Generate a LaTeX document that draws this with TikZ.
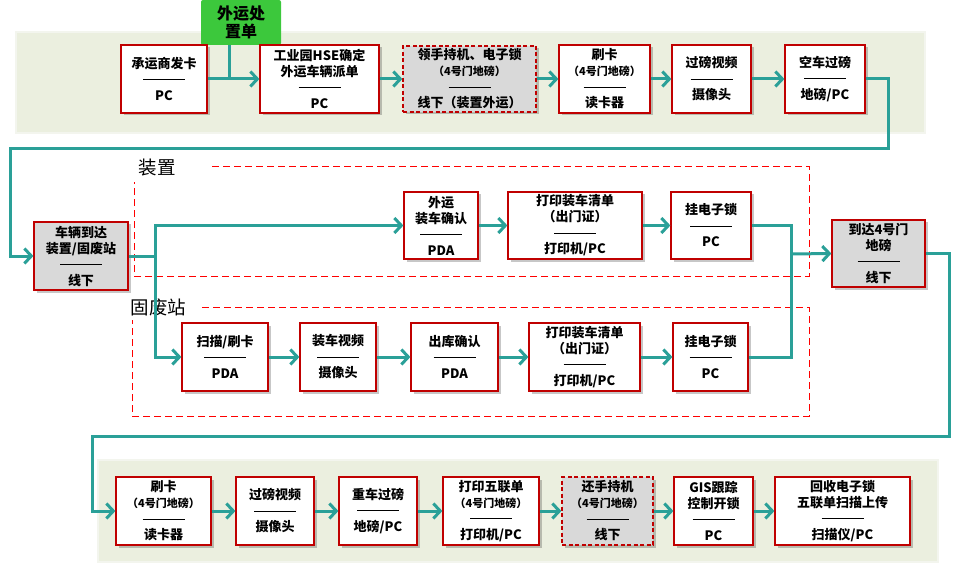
\documentclass[tikz,border=0pt]{standalone}
\usepackage{fontspec}
\setmainfont{Noto Sans CJK SC}
\usetikzlibrary{arrows.meta,shadows}

\definecolor{teal}{RGB}{42,160,152}
\definecolor{boxred}{RGB}{192,0,0}
\definecolor{band}{RGB}{235,239,223}
\definecolor{bandedge}{RGB}{243,245,238}
\definecolor{greenbox}{RGB}{60,200,60}
\definecolor{grayfill}{RGB}{217,217,217}

% divider between task and tool, smaller sub-line text
\newcommand\sep{\rule[4.5pt]{42pt}{0.8pt}}
\newcommand\sm[1]{{\fontsize{11}{14}\selectfont #1}}

\tikzset{
  flowbox/.style={draw=boxred, line width=1.2pt, fill=white, align=center,
    inner sep=0pt, font=\fontsize{13}{16}\selectfont\bfseries,
    drop shadow={shadow xshift=2.5pt, shadow yshift=-2.5pt, fill=black, opacity=0.22}},
  offline/.style={fill=grayfill},
  dashbox/.style={dash pattern=on 4pt off 2.5pt},
  flow/.style={draw=teal, line width=3pt,
    -{Straight Barb[length=7pt,width=15pt]}},
  link/.style={draw=teal, line width=3pt},
  group/.style={draw=red, line width=0.9pt, dash pattern=on 7pt off 4pt},
  grouplabel/.style={font=\fontsize{18.5}{20}\selectfont, inner sep=0pt},
  bandbox/.style={fill=band, draw=bandedge, line width=2pt},
}

% box node from its corner coordinates: [style]{name}{x1}{y1}{x2}{y2}{text}
\newcommand\flownode[7][]{%
  \node[flowbox, #1, minimum width={(#5-#3)*1pt}, minimum height={(#6-#4)*1pt}]
    (#2) at ({(#3+#5)/2},{(#4+#6)/2}) {#7};}

\begin{document}
\begin{tikzpicture}[x=1pt, y=-1pt]
\useasboundingbox (0,0) rectangle (953,572);

% background bands
\fill[bandbox] (16,32) rectangle (925,133);
\fill[bandbox] (98,460) rectangle (938,562);

% dispatch order
\node[fill=greenbox, rounded corners=2pt, minimum width=80pt, minimum height=45pt,
  inner sep=0pt, align=center, font=\fontsize{16}{18}\selectfont\bfseries]
  (g) at (241,22.5) {外运处\\置单};

% first row
\flownode{b1}{121}{45}{207}{113}{承运商发卡\\\sep\\PC}
\flownode{b2}{260}{45}{379}{113}{工业园HSE确定\\外运车辆派单\\\sep\\PC}
\flownode[offline,dashbox]{b3}{403}{46}{536}{112}{领手持机、电子锁\\\sm{（4号门地磅）}\\\sep\\线下（装置外运）}
\flownode{b4}{559}{45}{650}{113}{刷卡\\\sm{（4号门地磅）}\\\sep\\读卡器}
\flownode{b5}{672}{45}{751}{113}{过磅视频\\\sep\\摄像头}
\flownode{b6}{785}{45}{865}{113}{空车过磅\\\sep\\地磅/PC}

% arrival
\flownode[offline]{c1}{34}{222}{128}{290}{车辆到达\\装置/固废站\\\sep\\线下}

% plant group
\draw[group] (212,166) -- (809,166) -- (809,276) -- (134,276) -- (134,182);
\node[grouplabel] (lz) at (157,168) {装置};
\flownode{z1}{404}{192}{478}{259}{外运\\装车确认\\\sep\\PDA}
\flownode{z2}{508}{192}{642}{259}{打印装车清单\\（出门证）\\\sep\\打印机/PC}
\flownode{z3}{671}{192}{751}{259}{挂电子锁\\\sep\\PC}

% solid waste station group
\draw[group] (202,307) -- (809,307) -- (809,416) -- (132,416) -- (132,320);
\node[grouplabel] (lf) at (158.5,307) {固废站};
\flownode{f1}{182}{323}{268}{391}{扫描/刷卡\\\sep\\PDA}
\flownode{f2}{300}{323}{376}{391}{装车视频\\\sep\\摄像头}
\flownode{f3}{411}{323}{498}{391}{出库确认\\\sep\\PDA}
\flownode{f4}{529}{323}{640}{391}{打印装车清单\\（出门证）\\\sep\\打印机/PC}
\flownode{f5}{673}{323}{748}{391}{挂电子锁\\\sep\\PC}

% gate weighbridge
\flownode[offline]{d}{832}{220}{925}{287}{到达4号门\\地磅\\\sep\\线下}

% last row
\flownode{h1}{116}{477}{211}{545}{刷卡\\\sm{（4号门地磅）}\\\sep\\读卡器}
\flownode{h2}{236}{477}{314}{545}{过磅视频\\\sep\\摄像头}
\flownode{h3}{339}{477}{417}{545}{重车过磅\\\sep\\地磅/PC}
\flownode{h4}{443}{477}{539}{545}{打印五联单\\\sm{（4号门地磅）}\\\sep\\打印机/PC}
\flownode[offline,dashbox]{h5}{562}{477}{653}{545}{还手持机\\\sm{（4号门地磅）}\\\sep\\线下}
\flownode{h6}{674}{477}{753}{545}{GIS跟踪\\控制开锁\\\sep\\PC}
\flownode{h7}{775}{477}{910}{545}{回收电子锁\\五联单扫描上传\\\sep\\扫描仪/PC}

% junction and turn points
\coordinate (j) at (229,79);
\coordinate (t1) at (888,149);
\coordinate (t2) at (10,149);
\coordinate (s) at (155,256);
\coordinate (m) at (791,254);
\coordinate (u1) at (949,436);
\coordinate (u2) at (92,436);

% connectors
\draw[link] (j |- g.south) -- (j);
\draw[flow] (b1.east) -- (b2.west);
\draw[flow] (b2.east) -- (b3.west);
\draw[flow] (b3.east) -- (b4.west);
\draw[flow] (b4.east) -- (b5.west);
\draw[flow] (b5.east) -- (b6.west);
\draw[flow] (b6.east) -| (t1) -- (t2) |- (c1.west);

\draw[link] (c1.east) -- (s);
\draw[flow] (s) |- (z1.west);
\draw[flow] (s) |- (f1.west);
\draw[flow] (z1.east) -- (z2.west);
\draw[flow] (z2.east) -- (z3.west);
\draw[flow] (f1.east) -- (f2.west);
\draw[flow] (f2.east) -- (f3.west);
\draw[flow] (f3.east) -- (f4.west);
\draw[flow] (f4.east) -- (f5.west);
\draw[link] (z3.east) -| (m);
\draw[link] (f5.east) -| (m);
\draw[flow] (m) -- (d.west);

\draw[flow] (d.east) -| (u1) -- (u2) |- (h1.west);
\draw[flow] (h1.east) -- (h2.west);
\draw[flow] (h2.east) -- (h3.west);
\draw[flow] (h3.east) -- (h4.west);
\draw[flow] (h4.east) -- (h5.west);
\draw[flow] (h5.east) -- (h6.west);
\draw[flow] (h6.east) -- (h7.west);
\end{tikzpicture}
\end{document}
